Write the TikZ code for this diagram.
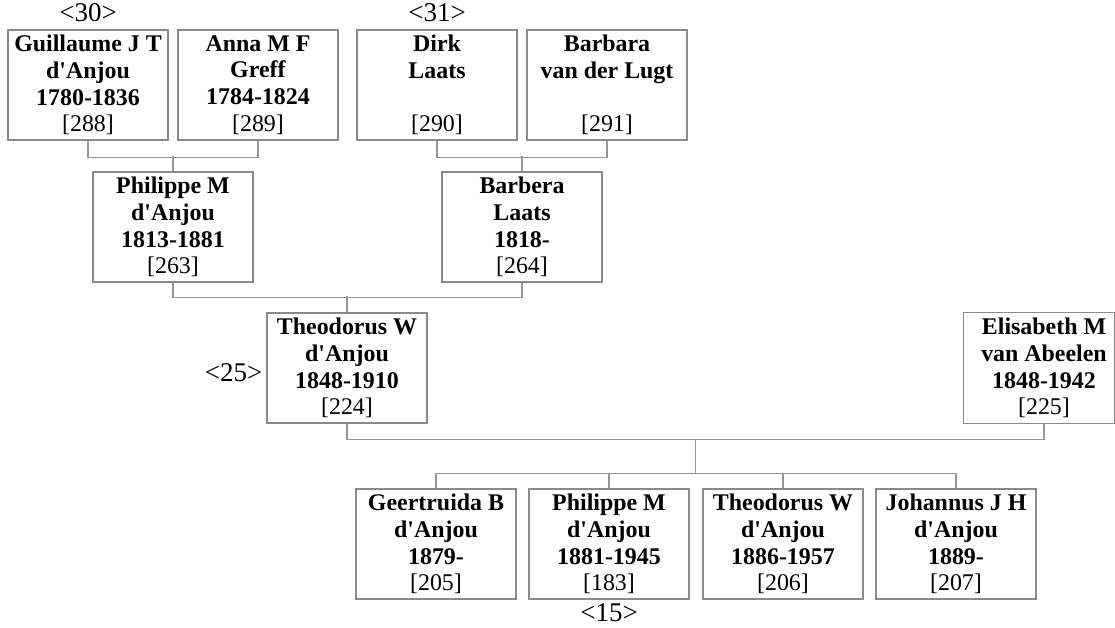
\documentclass[tikz,border=0pt]{standalone}
\usepackage{fontspec}
\setmainfont{Liberation Serif}[Ligatures=TeXOff]
\definecolor{boxgray}{RGB}{138,138,138}
\definecolor{linegray}{RGB}{150,150,150}
\newcommand\pers[4]{\textbf{#1}\\\textbf{#2}\\\textbf{#3}\\{}[#4]}
\begin{document}
\begin{tikzpicture}[x=1pt,y=-1pt,
  box/.style={draw=boxgray, line width=1.2pt, minimum width=160pt, minimum height=110pt,
    inner sep=0pt, align=center, font=\fontsize{23.9}{26.7}\selectfont},
  ghost/.style={box, draw=none},
  conn/.style={draw=linegray, line width=1.2pt},
  lbl/.style={font=\fontsize{27}{30}\selectfont, inner sep=0pt}]
\useasboundingbox (0,0) rectangle (1115,628);
% generation 1
\node[box] (g288) at (88,85)  {\pers{Guillaume J T}{d'Anjou}{1780-1836}{288}};
\node[box] (a289) at (258,85) {\pers{Anna M F}{Greff}{1784-1824}{289}};
\node[box] (d290) at (437,85) {\pers{Dirk}{Laats}{~}{290}};
\node[box] (b291) at (607,85) {\pers{Barbara}{van der Lugt}{~}{291}};
% generation 2
\node[box] (p263) at (173,227) {\pers{Philippe M}{d'Anjou}{1813-1881}{263}};
\node[box] (b264) at (522,227) {\pers{Barbera}{Laats}{1818-}{264}};
% generation 3
\node[box] (t224) at (347,368) {\pers{Theodorus W}{d'Anjou}{1848-1910}{224}};
\node[ghost] (e225) at (1044,368) {\pers{Elisabeth M}{van Abeelen}{1848-1942}{225}};
\draw[boxgray, line width=1.2pt] (e225.north west) rectangle ([xshift=-10pt]e225.south east);
% generation 4
\node[box] (c205) at (436,544) {\pers{Geertruida B}{d'Anjou}{1879-}{205}};
\node[box] (c183) at (609,544) {\pers{Philippe M}{d'Anjou}{1881-1945}{183}};
\node[box] (c206) at (783,544) {\pers{Theodorus W}{d'Anjou}{1886-1957}{206}};
\node[box] (c207) at (956,544) {\pers{Johannus J H}{d'Anjou}{1889-}{207}};
% labels
\node[lbl, anchor=base] (l30) at (88,22) {<30>};
\node[lbl, anchor=base] (l31) at (437,22) {<31>};
\node[lbl, anchor=base] (l25) at (233.5,381) {<25>};
\node[lbl, anchor=base] (l15) at (609,621) {<15>};
% connectors
\draw[conn] (g288.south) -- ++(0,17) -| (a289.south);
\draw[conn] (p263.north) -- ++(0,-15);
\draw[conn] (d290.south) -- ++(0,17) -| (b291.south);
\draw[conn] (b264.north) -- ++(0,-15);
\draw[conn] (p263.south) -- ++(0,15) -| (b264.south);
\draw[conn] (t224.north) -- ++(0,-16);
\draw[conn] (t224.south) -- ++(0,16) -| (e225.south);
\coordinate (fam) at (695.5,439);
\draw[conn] (fam) -- ++(0,35);
\draw[conn] (c205.north) -- ++(0,-15) -| (c207.north);
\draw[conn] (c183.north) -- ++(0,-15);
\draw[conn] (c206.north) -- ++(0,-15);
\end{tikzpicture}
\end{document}
